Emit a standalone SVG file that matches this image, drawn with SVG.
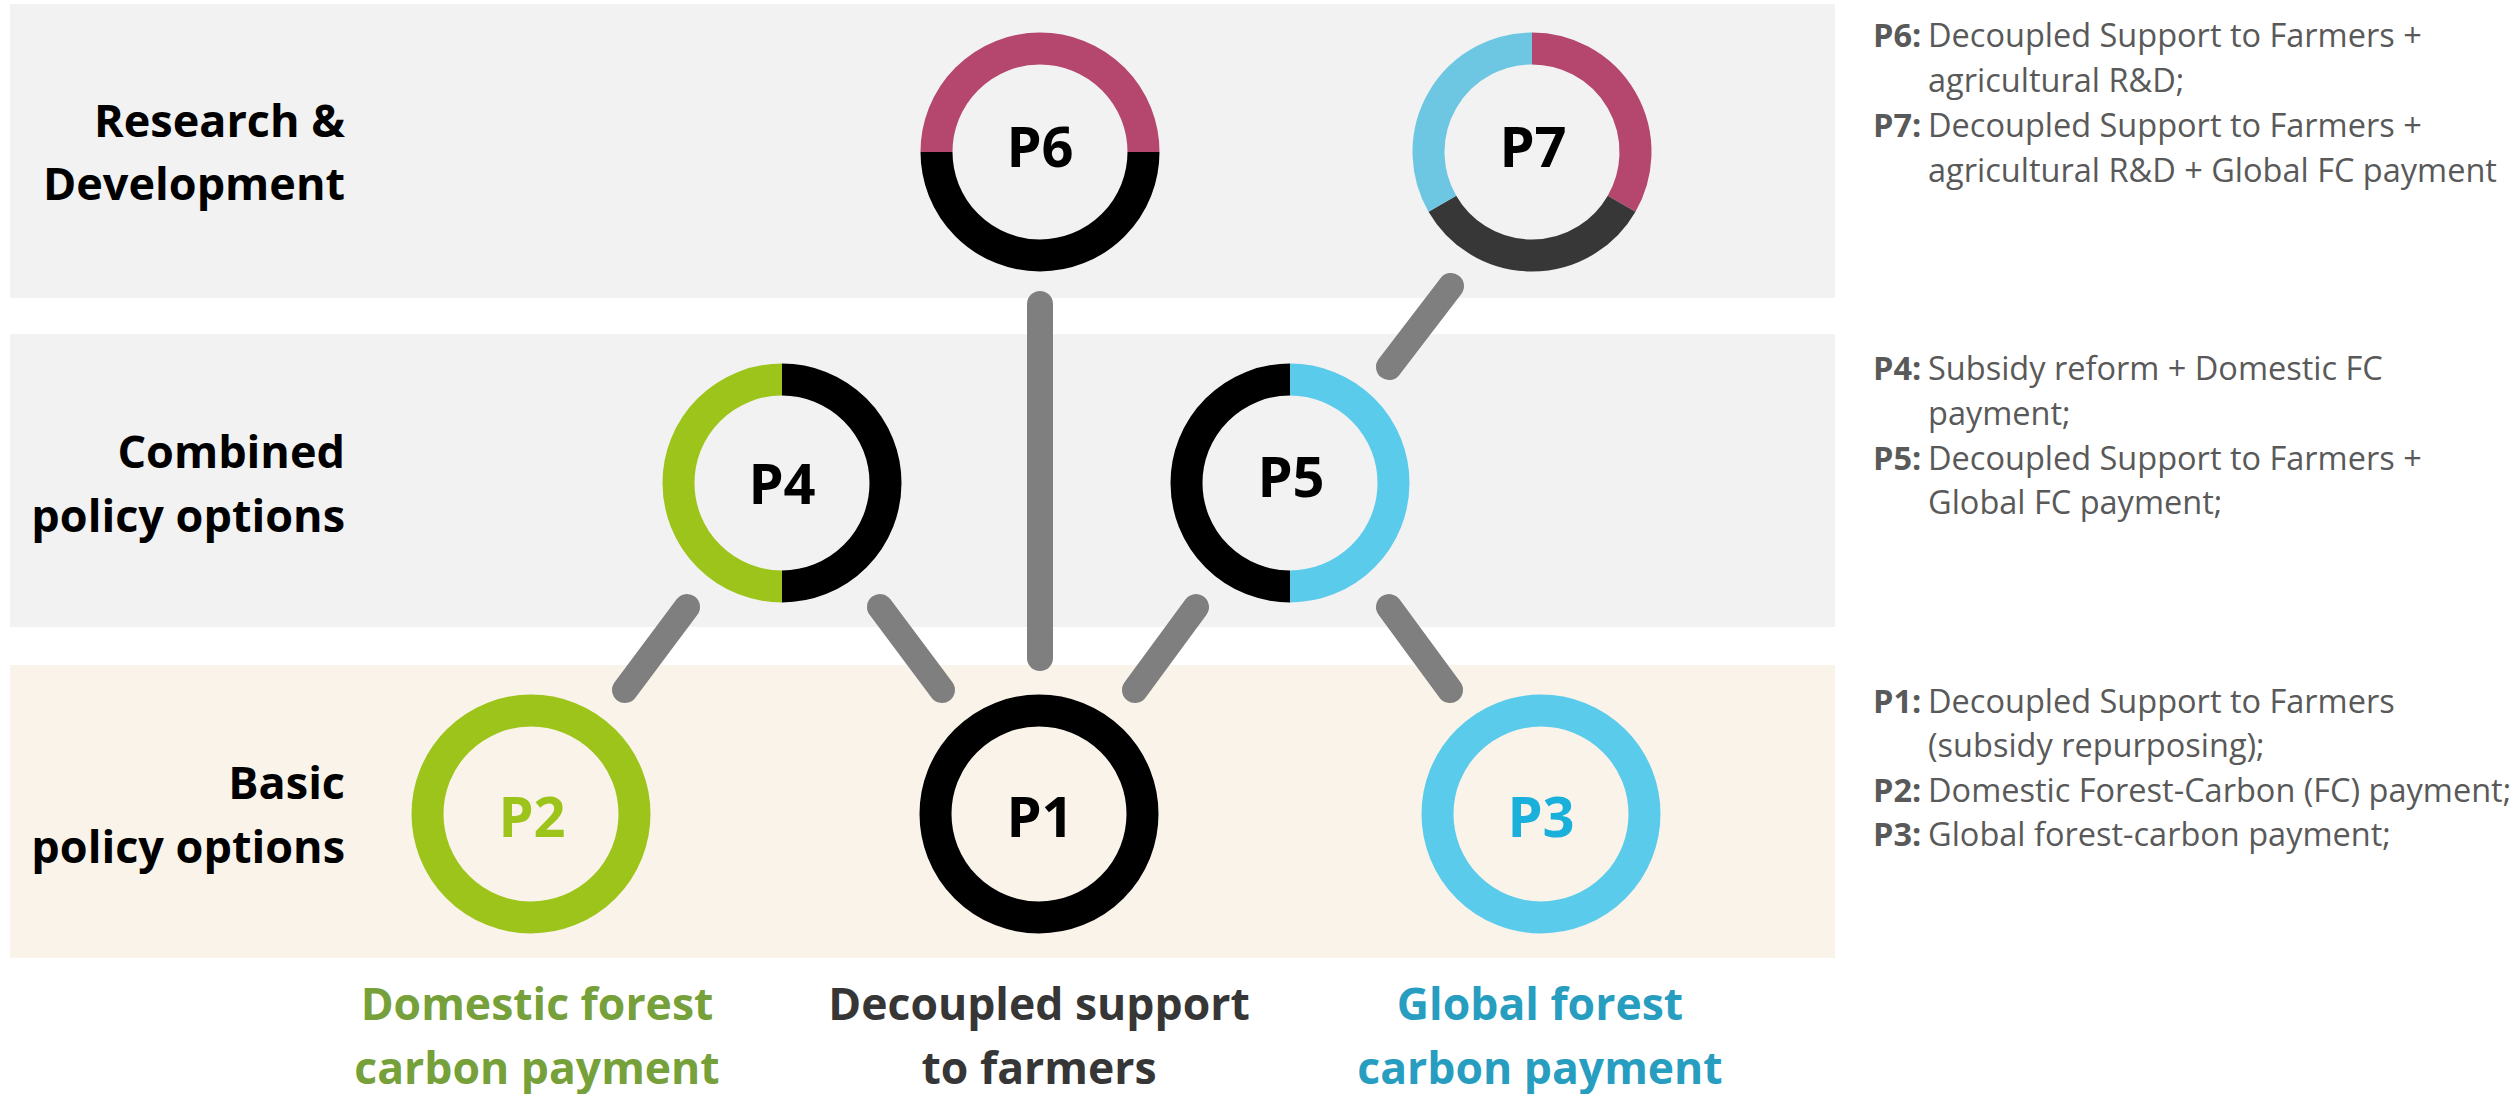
<svg xmlns="http://www.w3.org/2000/svg" width="2519" height="1094" viewBox="0 0 2519 1094">
<style>
.band-gray{fill:#F2F2F2}
.band-beige{fill:#FAF3EA}
.conn{stroke:#7F7F7F;stroke-width:26;stroke-linecap:round;fill:none}
.ring{fill:none;stroke-width:32;stroke-linecap:butt}
.nlabel{font-family:"Open Sans","DejaVu Sans",sans-serif;font-weight:700;font-size:56px;text-anchor:middle}
.tier{font-family:"Open Sans","DejaVu Sans",sans-serif;font-weight:700;font-size:45px;fill:#000;text-anchor:end}
.cat{font-family:"Open Sans","DejaVu Sans",sans-serif;font-weight:700;font-size:44.5px;text-anchor:middle}
.desc{font-family:"Open Sans","DejaVu Sans",sans-serif;font-size:32.5px;fill:#595959}
.desc .k{font-weight:700}
</style>
<rect width="2519" height="1094" fill="#FFFFFF"/>
<g id="bands">
<rect class="band-gray" x="10" y="4" width="1825" height="294"/>
<rect class="band-gray" x="10" y="334" width="1825" height="293"/>
<rect class="band-beige" x="10" y="665" width="1825" height="293"/>
</g>
<g id="tier-labels">
<text class="tier" x="345" y="137">Research &amp;</text>
<text class="tier" x="345" y="200">Development</text>
<text class="tier" x="345" y="468">Combined</text>
<text class="tier" x="345" y="532">policy options</text>
<text class="tier" x="345" y="799">Basic</text>
<text class="tier" x="345" y="863">policy options</text>
</g>
<g id="connectors">
<line class="conn" x1="1040" y1="304" x2="1040" y2="658"/>
<line class="conn" x1="1451" y1="286" x2="1389" y2="367"/>
<line class="conn" x1="687" y1="607" x2="625" y2="690"/>
<line class="conn" x1="880" y1="607" x2="942" y2="690"/>
<line class="conn" x1="1196" y1="607" x2="1135" y2="690"/>
<line class="conn" x1="1389" y1="607" x2="1450" y2="690"/>
</g>
<g id="P6">
<path class="ring" stroke="#B5466E" d="M936.5 152 A103.5 103.5 0 0 1 1143.5 152"/>
<path class="ring" stroke="#000000" d="M1143.5 152 A103.5 103.5 0 0 1 936.5 152"/>
<text class="nlabel" x="1040" y="167" fill="#000">P6</text>
</g>
<g id="P7">
<path class="ring" stroke="#B5466E" d="M1532 48.5 A103.5 103.5 0 0 1 1621.63 203.75"/>
<path class="ring" stroke="#373737" d="M1621.63 203.75 A103.5 103.5 0 0 1 1442.37 203.75"/>
<path class="ring" stroke="#6EC7E2" d="M1442.37 203.75 A103.5 103.5 0 0 1 1532 48.5"/>
<text class="nlabel" x="1533" y="167" fill="#000">P7</text>
</g>
<g id="P4">
<path class="ring" stroke="#9DC41A" d="M782 586.5 A103.5 103.5 0 0 1 782 379.5"/>
<path class="ring" stroke="#000000" d="M782 379.5 A103.5 103.5 0 0 1 782 586.5"/>
<text class="nlabel" x="782" y="504" fill="#000">P4</text>
</g>
<g id="P5">
<path class="ring" stroke="#000000" d="M1290 586.5 A103.5 103.5 0 0 1 1290 379.5"/>
<path class="ring" stroke="#5BCBEB" d="M1290 379.5 A103.5 103.5 0 0 1 1290 586.5"/>
<text class="nlabel" x="1291" y="497" fill="#000">P5</text>
</g>
<g id="P2">
<circle class="ring" stroke="#9DC41A" cx="531" cy="814" r="103.5"/>
<text class="nlabel" x="532" y="837" fill="#9DC41A">P2</text>
</g>
<g id="P1">
<circle class="ring" stroke="#000000" cx="1039" cy="814" r="103.5"/>
<text class="nlabel" x="1040" y="837" fill="#000">P1</text>
</g>
<g id="P3">
<circle class="ring" stroke="#5BCBEB" cx="1541" cy="814" r="103.5"/>
<text class="nlabel" x="1541" y="837" fill="#1AB0DC">P3</text>
</g>
<g id="category-labels">
<text class="cat" x="537" y="1020" fill="#76A03A">Domestic forest</text>
<text class="cat" x="537" y="1084" fill="#76A03A">carbon payment</text>
<text class="cat" x="1039" y="1020" fill="#363636">Decoupled support</text>
<text class="cat" x="1039" y="1084" fill="#363636">to farmers</text>
<text class="cat" x="1540" y="1020" fill="#279DBF">Global forest</text>
<text class="cat" x="1540" y="1084" fill="#279DBF">carbon payment</text>
</g>
<g id="descriptions">
<text class="desc" x="1873" y="47"><tspan class="k">P6:</tspan><tspan x="1928">Decoupled Support to Farmers +</tspan></text>
<text class="desc" x="1928" y="92">agricultural R&amp;D;</text>
<text class="desc" x="1873" y="137"><tspan class="k">P7:</tspan><tspan x="1928">Decoupled Support to Farmers +</tspan></text>
<text class="desc" x="1928" y="182">agricultural R&amp;D + Global FC payment</text>
<text class="desc" x="1873" y="380"><tspan class="k">P4:</tspan><tspan x="1928">Subsidy reform + Domestic FC</tspan></text>
<text class="desc" x="1928" y="425">payment;</text>
<text class="desc" x="1873" y="470"><tspan class="k">P5:</tspan><tspan x="1928">Decoupled Support to Farmers +</tspan></text>
<text class="desc" x="1928" y="514">Global FC payment;</text>
<text class="desc" x="1873" y="713"><tspan class="k">P1:</tspan><tspan x="1928">Decoupled Support to Farmers</tspan></text>
<text class="desc" x="1928" y="757">(subsidy repurposing);</text>
<text class="desc" x="1873" y="802"><tspan class="k">P2:</tspan><tspan x="1928">Domestic Forest-Carbon (FC) payment;</tspan></text>
<text class="desc" x="1873" y="846"><tspan class="k">P3:</tspan><tspan x="1928">Global forest-carbon payment;</tspan></text>
</g>
</svg>
